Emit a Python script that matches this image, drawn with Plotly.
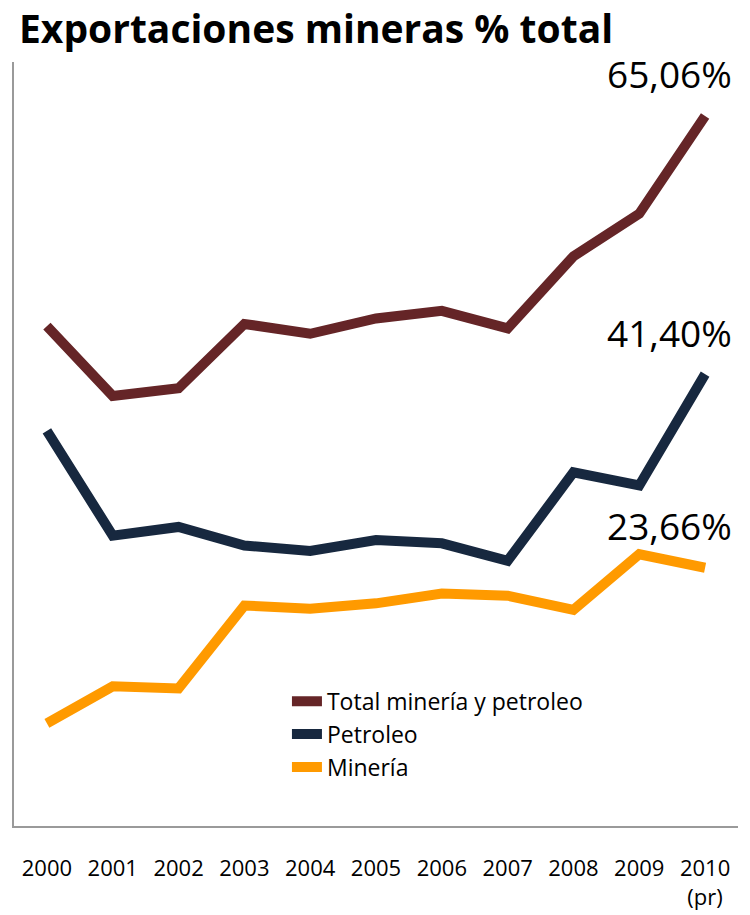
import plotly.graph_objects as go

years = ["2000", "2001", "2002", "2003", "2004", "2005", "2006", "2007", "2008", "2009", "2010<br>(pr)"]
total = [45.8, 39.4, 40.1, 46.0, 45.1, 46.5, 47.2, 45.6, 52.2, 56.1, 65.06]
petroleo = [36.2, 26.6, 27.4, 25.7, 25.2, 26.2, 25.9, 24.3, 32.4, 31.2, 41.40]
mineria = [9.4, 12.8, 12.6, 20.2, 19.9, 20.4, 21.3, 21.1, 19.8, 24.9, 23.66]

names = ["Total minería y petroleo", "Petroleo", "Minería"]
colors = ["#652527", "#17283F", "#FF9A00"]
end_labels = ["65,06%", "41,40%", "23,66%"]

FONT = "Open Sans, Lato, sans-serif"

fig = go.Figure()
for i, (name, vals, col) in enumerate(zip(names, [total, petroleo, mineria], colors)):
    fig.add_trace(go.Scatter(x=years, y=vals, mode="lines", name=name,
                             legendgroup=f"g{i}",
                             line=dict(color=col, width=10)))

for vals, lab in zip([total, petroleo, mineria], end_labels):
    fig.add_annotation(x=years[-1], y=vals[-1], text=lab, showarrow=False,
                       xref="x", yref="y", yshift=42, xshift=-36,
                       font=dict(size=37, color="#000000", family=FONT))

fig.update_layout(
    width=750, height=915,
    margin=dict(l=14, r=12, t=62, b=89, autoexpand=False),
    paper_bgcolor="white", plot_bgcolor="white",
    title=dict(text="<b>Exportaciones mineras % total</b>", x=19 / 750, xanchor="left",
               xref="container", yref="container",
               y=1 - 29 / 915, yanchor="middle",
               font=dict(size=39, color="#000000", family=FONT)),
    showlegend=True,
    legend=dict(x=0.377, y=0.1915, xanchor="left", yanchor="top",
                font=dict(size=23, color="#000000", family=FONT),
                bgcolor="rgba(0,0,0,0)", tracegroupgap=0),
    font=dict(family=FONT),
)
fig.update_xaxes(type="category", range=[-0.5, 10.5], showline=True, linecolor="#9A9A9A",
                 linewidth=2, showgrid=False, ticks="", ticklabelstandoff=22,
                 automargin=False,
                 tickfont=dict(size=22, color="#000000", family=FONT))
fig.update_yaxes(range=[0, 70], showline=True, linecolor="#9A9A9A", linewidth=2,
                 automargin=False,
                 showgrid=False, showticklabels=False, ticks="", zeroline=False)

fig.write_html("out.html", config={"displayModeBar": False},
               post_script="document.body.style.margin='0px';")
